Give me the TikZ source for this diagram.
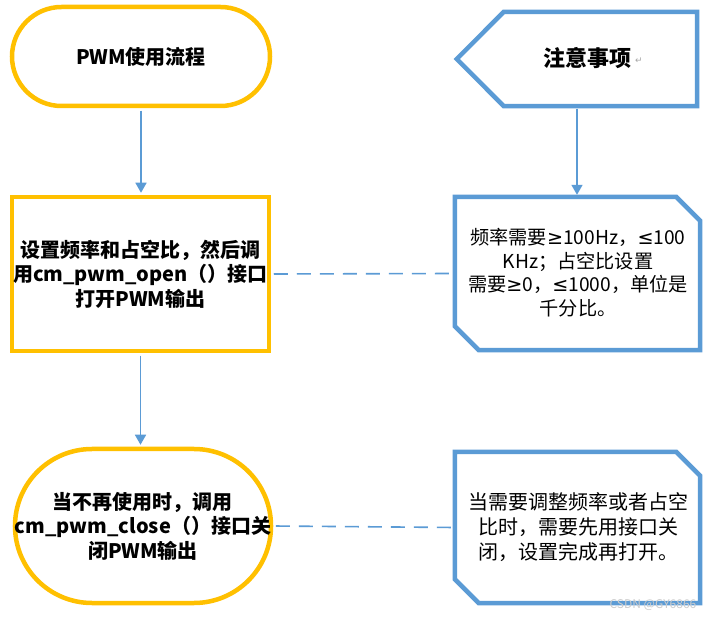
\documentclass[tikz,border=0pt]{standalone}
\usepackage{fontspec}
\setmainfont{Noto Sans CJK SC}
\newfontfamily\symf{DejaVu Sans}
\newcommand{\mge}{{\symf ≥}}
\newcommand{\mle}{{\symf ≤}}
\usetikzlibrary{arrows.meta,calc}
\definecolor{gold}{RGB}{255,192,0}
\definecolor{acc}{RGB}{91,155,213}
\begin{document}
\begin{tikzpicture}[x=1pt,y=-1pt,
  flow/.style={draw=gold,line width=4.5pt,align=center,font=\bfseries\fontsize{20}{24.5}\selectfont,inner sep=0pt},
  conn/.style={draw=acc,line width=1.6pt},
  arr/.style={conn,-{Triangle[length=10pt,width=11pt]},shorten <=2.5pt,shorten >=2pt},
  dsh/.style={conn,dash pattern=on 14pt off 9pt,shorten <=2.5pt,shorten >=2.5pt},
  tipbox/.style={draw=acc,line width=4.5pt,line join=miter},
  tiptext/.style={align=center,inner sep=0pt}]
\useasboundingbox[fill=white] (0,0) rectangle (713,620);
% left flow
\node[flow,rounded corners=49.5pt,minimum width=258pt,minimum height=99pt] (start) at (141,56.5) {PWM使用流程};
\node[flow,minimum width=257pt,minimum height=154pt] (setup) at (140.5,274) {设置频率和占空比，然后调\\用cm\_pwm\_open（）接口\\打开PWM输出};
\node[flow,rounded corners=77pt,minimum width=256pt,minimum height=154pt] (close) at (143,526) {当不再使用时，调用\\cm\_pwm\_close（）接口关\\闭PWM输出};
% right side shapes
\node[minimum width=240pt,minimum height=94pt,inner sep=0pt] (notes) at (577,59) {};
\draw[tipbox] (notes.west) -- ($(notes.north west)+(47,0)$) -- (notes.north east) -- (notes.south east) -- ($(notes.south west)+(47,0)$) -- cycle;
\node[font=\bfseries\fontsize{22}{26}\selectfont] (notestitle) at (587,58) {注意事项};
\node[font=\symf\fontsize{9}{10}\selectfont,text=gray!70] (retmark) at (639,61) {↵};
\node[minimum width=245pt,minimum height=153pt,inner sep=0pt] (tip1) at (577.5,273.5) {};
\draw[tipbox] (tip1.north west) -- ($(tip1.north east)+(-24,0)$) -- ($(tip1.north east)+(0,24)$) -- (tip1.south east) -- ($(tip1.south west)+(24,0)$) -- ($(tip1.south west)+(0,-24)$) -- cycle;
\node[tiptext,font=\fontsize{19.2}{23.5}\selectfont] (tip1text) at (578,272.5) {频率需要\mge100Hz，\mle100\\KHz；占空比设置\\需要\mge0，\mle1000，单位是\\千分比。};
\node[minimum width=245pt,minimum height=151pt,inner sep=0pt] (tip2) at (577.5,527.5) {};
\draw[tipbox] (tip2.north west) -- ($(tip2.north east)+(-24,0)$) -- ($(tip2.north east)+(0,24)$) -- (tip2.south east) -- ($(tip2.south west)+(24,0)$) -- ($(tip2.south west)+(0,-24)$) -- cycle;
\node[tiptext,font=\fontsize{20}{25}\selectfont] (tip2text) at (578,527) {当需要调整频率或者占空\\比时，需要先用接口关\\闭，设置完成再打开。};
% connectors
\draw[arr] (start.south) -- (start.south |- setup.north);
\draw[arr] (setup.south) -- (setup.south |- close.north);
\draw[arr] (notes.south) -- (notes.south |- tip1.north);
\draw[dsh] (setup.east) -- (tip1.west);
\draw[dsh] (close.east) -- (tip2.west);
\node[font=\fontsize{12}{14}\selectfont,text=gray!40] (wm) at (653,605) {CSDN @GY6866};
\end{tikzpicture}
\end{document}
